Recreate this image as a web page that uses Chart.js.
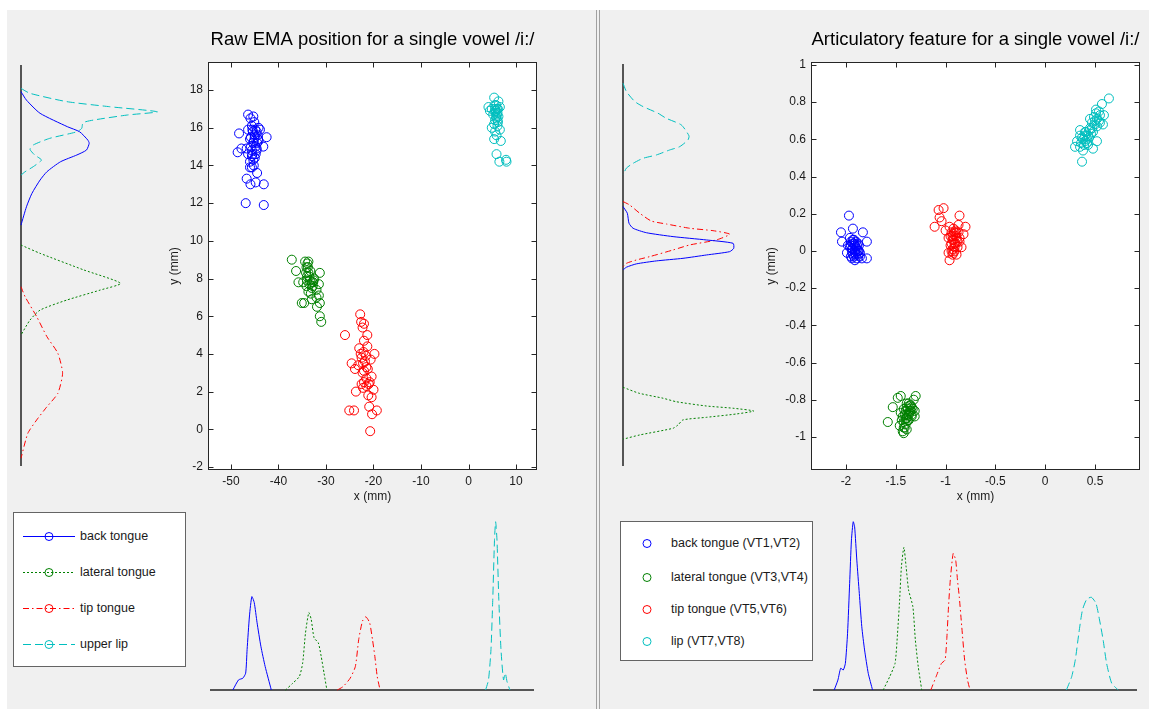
<!DOCTYPE html>
<html>
<head>
<meta charset="utf-8">
<script src="https://cdn.jsdelivr.net/npm/chart.js@4.4.1/dist/chart.umd.min.js"></script>
<style>
  html, body { margin: 0; padding: 0; width: 1149px; height: 709px; overflow: hidden; background: #fff;
    font-family: "Liberation Sans", Arial, sans-serif; }
  #fig { position: absolute; left: 7px; top: 10px; width: 1142px; height: 699px; background: #f0f0f0; }
  .sep { position: absolute; top: 10px; width: 1px; height: 699px; background: #a0a0a0; }
  canvas { position: absolute; }
  .legend { position: absolute; background: #fff; border: 1px solid #646464; box-sizing: border-box; }
  .legend svg { position: absolute; left: 0; top: 0; }
  .legend .lbl { position: absolute; font-size: 12.5px; color: #1a1a1a; line-height: 14px; white-space: nowrap; }
</style>
</head>
<body>
<div id="fig"></div>
<div class="sep" style="left:596px"></div>
<div class="sep" style="left:599px"></div>

<canvas id="rawScatter" width="385" height="486" style="left:160px;top:20px"></canvas>
<canvas id="rawYDens" width="185" height="420" style="left:0px;top:56px"></canvas>
<canvas id="rawXDens" width="345" height="200" style="left:200px;top:505px"></canvas>
<div class="legend" id="rawLegend" style="left:13px;top:512px;width:173px;height:155px"></div>

<canvas id="featScatter" width="393" height="486" style="left:755px;top:20px"></canvas>
<canvas id="featYDens" width="185" height="420" style="left:600px;top:55px"></canvas>
<canvas id="featXDens" width="345" height="200" style="left:805px;top:505px"></canvas>
<div class="legend" id="featLegend" style="left:620px;top:521px;width:193px;height:140px"></div>

<script>
// series names / colours
const rawNames = ["back tongue", "lateral tongue", "tip tongue", "upper lip"];
const featNames = ["back tongue (VT1,VT2)", "lateral tongue (VT3,VT4)", "tip tongue (VT5,VT6)", "lip (VT7,VT8)"];
const colors = ["#0000ff", "#008000", "#ff0000", "#00bfbf"];
const dashes = [[], [2, 2], [6, 3, 1.5, 3], [8, 4]];

// raw EMA positions [x, y] (mm)
const rawBack = [[-46.4,16.7],[-45.3,16.6],[-48.3,15.7],[-48.6,14.7],[-47.8,14.9],[-46.7,14.9],[-45.6,16.1],[-46.4,15.9],
  [-44.6,15.8],[-43.9,15.9],[-42.5,15.5],[-45.0,15.5],[-44.3,15.4],[-46.0,15.4],[-45.3,15.2],[-44.6,14.9],[-43.2,15.0],
  [-46.4,14.6],[-45.6,14.5],[-45.3,14.3],[-46.0,13.9],[-45.6,13.9],[-44.5,13.6],[-46.7,13.3],[-45.9,13.0],[-44.8,13.1],
  [-43.1,13.0],[-46.9,12.0],[-43.1,11.9],[-45.0,15.6],[-44.5,15.2],[-45.8,15.0],[-44.8,14.6],[-45.5,15.9],[-44.2,16.0],
  [-46.0,14.2],[-45.2,14.0],[-45.2,15.3],[-44.8,15.0],[-45.6,14.8],[-44.4,15.6],[-45.0,14.4],[-45.4,15.8],[-44.6,14.8],
  [-45.8,15.5],[-44.2,15.3],[-45.5,14.6],[-45.1,16.3],[-45.9,16.5],[-44.9,15.9]];
const rawLat = [[-37.2,9.0],[-36.3,8.4],[-35.8,7.8],[-34.4,8.9],[-33.7,8.9],[-34.1,8.6],[-33.7,8.3],[-33.4,7.9],[-34.8,7.8],
  [-32.7,7.8],[-31.3,8.3],[-31.5,7.7],[-34.1,7.6],[-33.0,7.5],[-32.0,7.4],[-33.7,7.3],[-35.1,6.7],[-34.6,6.7],[-33.0,6.9],
  [-32.0,7.0],[-31.5,7.1],[-31.3,6.7],[-31.9,6.5],[-31.3,6.0],[-31.0,5.7],[-34.2,8.3],[-32.5,8.0],[-33.5,7.7],[-33.9,8.8],
  [-34.0,8.1],[-33.5,8.1],[-33.0,7.8],[-34.0,7.9],[-32.8,7.6],[-33.3,8.4],[-33.8,8.6],[-32.6,7.9],[-33.2,7.2]];
const rawTip = [[-22.8,6.1],[-22.6,5.7],[-22.0,5.6],[-22.3,5.4],[-21.3,5.0],[-26.0,5.0],[-22.0,4.7],[-21.3,4.4],[-23.0,4.3],
  [-22.7,4.0],[-19.8,4.0],[-22.5,3.8],[-20.6,3.7],[-24.6,3.5],[-22.2,3.5],[-23.2,3.4],[-21.5,3.3],[-23.9,3.2],[-21.2,3.2],
  [-22.0,3.1],[-20.4,2.8],[-22.0,2.5],[-20.8,2.5],[-22.5,2.4],[-21.5,2.3],[-22.2,2.2],[-23.7,2.0],[-20.0,2.1],[-21.1,1.8],
  [-20.4,1.7],[-25.1,1.0],[-24.1,1.0],[-19.3,1.0],[-20.9,1.2],[-20.3,0.8],[-20.7,-0.1],[-21.8,3.6],[-21.5,2.7],[-22.3,3.0],
  [-21.0,2.4],[-22.1,4.1],[-21.6,3.9]];
const rawLip = [[5.4,17.6],[6.3,17.4],[4.2,17.1],[4.9,17.0],[5.6,16.9],[6.1,16.8],[5.2,16.7],[6.6,17.1],[5.8,17.2],[4.5,16.9],
  [6.3,16.6],[5.6,16.4],[6.1,16.1],[4.9,16.0],[6.6,15.9],[5.6,15.8],[5.9,15.6],[5.4,15.4],[6.8,15.3],[5.9,14.6],[6.5,14.2],
  [7.9,14.3],[8.0,14.2],[5.8,16.6],[6.0,17.0],[5.5,17.2],[6.2,16.3],[5.8,16.9],[6.0,16.7],[5.6,17.0],[6.2,17.0],[5.9,16.5],
  [5.7,16.8],[6.1,16.4],[5.4,16.2]];

// articulatory features [x, y]
const featBack = [[-1.97,0.19],[-2.05,0.10],[-2.04,0.05],[-1.93,0.12],[-1.83,0.10],[-1.79,0.05],[-1.96,0.07],[-1.92,0.06],
  [-1.98,0.03],[-1.89,0.03],[-1.94,0.01],[-1.88,0.00],[-1.93,-0.02],[-1.86,-0.01],[-1.95,-0.03],[-1.91,-0.05],[-1.84,-0.04],
  [-1.79,-0.04],[-1.99,-0.01],[-1.90,0.02],[-1.87,0.03],[-1.93,0.04],[-1.95,0.05],[-1.91,0.0],[-1.95,0.03],[-1.93,0.01],
  [-1.91,-0.01],[-1.89,0.01],[-1.92,0.04],[-1.90,0.05],[-1.88,-0.02],[-1.94,-0.01],[-1.92,-0.03],[-1.89,-0.04],[-1.87,0.00],
  [-1.90,-0.02],[-1.93,0.06],[-1.96,0.02],[-1.86,-0.03],[-1.91,0.03],[-1.88,0.04],[-1.94,-0.04]];
const featLat = [[-1.58,-0.92],[-1.53,-0.84],[-1.48,-0.79],[-1.45,-0.78],[-1.30,-0.78],[-1.32,-0.80],[-1.39,-0.82],[-1.34,-0.84],
  [-1.42,-0.85],[-1.36,-0.86],[-1.31,-0.86],[-1.45,-0.87],[-1.39,-0.88],[-1.34,-0.89],[-1.31,-0.89],[-1.44,-0.91],[-1.37,-0.91],
  [-1.46,-0.94],[-1.42,-0.95],[-1.39,-0.96],[-1.43,-0.97],[-1.42,-0.98],[-1.40,-0.90],[-1.36,-0.87],[-1.40,-0.86],[-1.38,-0.85],
  [-1.36,-0.83],[-1.41,-0.88],[-1.37,-0.88],[-1.35,-0.86],[-1.39,-0.84],[-1.42,-0.92],[-1.40,-0.93],[-1.38,-0.91],[-1.41,-0.95],
  [-1.33,-0.85],[-1.37,-0.82],[-1.34,-0.88],[-1.43,-0.89],[-1.39,-0.90],[-1.35,-0.83]];
const featTip = [[-1.07,0.22],[-1.02,0.23],[-1.06,0.18],[-1.04,0.16],[-0.86,0.19],[-1.11,0.13],[-1.00,0.11],[-0.96,0.13],
  [-0.87,0.14],[-0.80,0.13],[-0.94,0.10],[-0.89,0.10],[-0.82,0.09],[-0.97,0.07],[-0.92,0.06],[-0.86,0.07],[-0.95,0.03],
  [-0.90,0.04],[-0.84,0.02],[-0.93,0.01],[-0.97,-0.01],[-0.92,-0.01],[-0.96,-0.05],[-0.91,0.02],[-0.93,0.08],[-0.88,0.05],
  [-0.93,0.06],[-0.91,0.04],[-0.89,0.07],[-0.92,0.09],[-0.90,0.11],[-0.88,0.02],[-0.94,0.04],[-0.91,0.00],[-0.87,0.10],
  [-0.93,-0.02],[-0.90,0.08],[-0.92,0.12],[-0.89,-0.02],[-0.95,0.08],[-0.86,0.05],[-0.91,0.10],[-0.94,0.00]];
const featLip = [[0.64,0.82],[0.57,0.79],[0.51,0.76],[0.54,0.75],[0.59,0.73],[0.45,0.71],[0.50,0.70],[0.55,0.69],[0.52,0.67],
  [0.58,0.68],[0.45,0.66],[0.35,0.65],[0.40,0.64],[0.48,0.64],[0.37,0.61],[0.43,0.62],[0.32,0.59],[0.40,0.59],[0.52,0.59],
  [0.30,0.56],[0.35,0.56],[0.43,0.57],[0.48,0.55],[0.38,0.54],[0.37,0.48],[0.42,0.60],[0.47,0.66],[0.38,0.60],[0.40,0.62],
  [0.42,0.58],[0.36,0.58],[0.44,0.61],[0.39,0.57],[0.41,0.64],[0.46,0.63],[0.35,0.62],[0.50,0.68],[0.52,0.71],[0.49,0.72],
  [0.54,0.70],[0.51,0.74],[0.47,0.69],[0.55,0.73],[0.45,0.65]];

// densities along y, [position, density]
const rawYDensBack = [[17.93,0],[17.48,0.04],[16.78,0.14],[16.07,0.34],[15.8,0.43],[15.36,0.49],[15.19,0.50],[14.83,0.48],
  [14.57,0.41],[14.21,0.29],[13.68,0.19],[13.24,0.14],[12.53,0.08],[11.82,0.04],[10.85,0]];
const rawYDensLat = [[9.79,0],[9.35,0.14],[8.47,0.46],[7.76,0.73],[7.4,0.58],[6.87,0.335],[6.34,0.14],[5.81,0.066],[5.02,0]];
const rawYDensTip = [[7.58,0],[7.05,0.03],[5.99,0.115],[4.93,0.19],[4.05,0.27],[2.99,0.305],[1.92,0.27],[1.21,0.19],
  [0.51,0.115],[-0.2,0.05],[-1.52,0]];
const rawYDensLip = [[18.1,0],[17.84,0.066],[17.4,0.335],[17.13,0.65],[16.86,1.0],[16.69,0.78],[16.42,0.53],[16.28,0.455],
  [15.98,0.445],[15.8,0.41],[15.45,0.21],[15.1,0.09],[14.87,0.066],[14.57,0.10],[14.3,0.15],[13.95,0.09],[13.68,0.03],[13.5,0]];

const featYDensBack = [[0.242,0],[0.206,0.033],[0.152,0.046],[0.125,0.077],[0.101,0.179],[0.08,0.383],[0.062,0.638],
  [0.044,0.842],[0.017,0.847],[-0.001,0.816],[-0.019,0.638],[-0.037,0.459],[-0.051,0.255],[-0.067,0.102],[-0.085,0.026],[-0.1,0]];
const featYDensLat = [[-0.732,0],[-0.764,0.122],[-0.791,0.306],[-0.81,0.408],[-0.833,0.638],[-0.845,0.842],[-0.86,1.0],
  [-0.876,0.867],[-0.894,0.638],[-0.908,0.459],[-0.935,0.421],[-0.953,0.383],[-0.989,0.128],[-1.012,0]];
const featYDensTip = [[0.269,0],[0.251,0.05],[0.206,0.128],[0.164,0.217],[0.148,0.332],[0.125,0.51],[0.112,0.689],
  [0.093,0.816],[0.062,0.714],[0.035,0.51],[0.008,0.383],[-0.028,0.204],[-0.046,0.102],[-0.064,0.026],[-0.082,0]];
const featYDensLip = [[0.907,0],[0.862,0.026],[0.808,0.09],[0.781,0.153],[0.745,0.268],[0.718,0.33],[0.682,0.446],
  [0.623,0.505],[0.601,0.497],[0.565,0.434],[0.547,0.357],[0.52,0.255],[0.502,0.153],[0.475,0.077],[0.449,0.026],[0.412,0]];

// densities along x, [position, density]
const rawXDensBack = [[-49.6,0],[-48.4,0.06],[-47.5,0.07],[-46.9,0.10],[-46.6,0.24],[-46.1,0.44],[-45.6,0.555],[-45.1,0.52],
  [-44.5,0.40],[-43.7,0.26],[-42.8,0.14],[-41.5,0]];
const rawXDensLat = [[-38.5,0],[-37.0,0.04],[-35.6,0.08],[-34.9,0.16],[-34.3,0.34],[-33.6,0.46],[-33.1,0.42],[-32.5,0.31],
  [-31.6,0.28],[-31.0,0.20],[-30.4,0.10],[-29.8,0]];
const rawXDensTip = [[-27.6,0],[-26.4,0.02],[-24.9,0.07],[-23.8,0.14],[-23.1,0.30],[-22.3,0.41],[-21.6,0.435],[-20.8,0.40],
  [-20.2,0.30],[-19.7,0.20],[-19.2,0.08],[-18.6,0]];
const rawXDensLip = [[3.62,0],[4.23,0.06],[4.75,0.24],[5.13,0.54],[5.49,0.89],[5.73,1.0],[6.02,0.89],[6.4,0.54],[6.86,0.24],
  [7.39,0.06],[7.77,0.10],[8.13,0.05],[8.74,0]];

const featXDensBack = [[-2.115,0],[-2.078,0.059],[-2.05,0.129],[-2.024,0.119],[-2.003,0.158],[-1.981,0.337],[-1.96,0.634],
  [-1.942,0.891],[-1.924,1.0],[-1.91,0.97],[-1.888,0.772],[-1.863,0.574],[-1.838,0.376],[-1.81,0.238],[-1.773,0.099],[-1.73,0]];
const featXDensLat = [[-1.623,0],[-1.558,0.079],[-1.504,0.158],[-1.479,0.337],[-1.458,0.535],[-1.44,0.733],[-1.415,0.848],
  [-1.393,0.733],[-1.368,0.594],[-1.325,0.495],[-1.3,0.297],[-1.271,0.139],[-1.236,0]];
const featXDensTip = [[-1.145,0],[-1.092,0.079],[-1.038,0.158],[-1.002,0.178],[-0.985,0.297],[-0.967,0.495],[-0.949,0.654],
  [-0.92,0.812],[-0.895,0.772],[-0.877,0.654],[-0.859,0.554],[-0.834,0.376],[-0.805,0.178],[-0.776,0.059],[-0.751,0]];
const featXDensLip = [[0.217,0],[0.27,0.079],[0.306,0.178],[0.342,0.337],[0.378,0.475],[0.421,0.539],[0.468,0.551],
  [0.514,0.515],[0.55,0.416],[0.586,0.297],[0.621,0.158],[0.672,0.04],[0.737,0]];

// tick values
const rawXTicks = [-50, -40, -30, -20, -10, 0, 10];
const rawYTicks = [-2, 0, 2, 4, 6, 8, 10, 12, 14, 16, 18];
const featXTicks = [-2, -1.5, -1, -0.5, 0, 0.5];
const featYTicks = [-1, -0.8, -0.6, -0.4, -0.2, 0, 0.2, 0.4, 0.6, 0.8, 1];

const FONT = '"Liberation Sans", Arial, sans-serif';
const TXT = "#1a1a1a";

// white axes background + box with inward ticks on all four sides (matlab style)
const boxTicks = {
  id: "boxTicks",
  beforeDraw(chart) {
    const { ctx, chartArea: a } = chart;
    ctx.save();
    ctx.fillStyle = "#fff";
    ctx.fillRect(a.left, a.top, a.width, a.height);
    ctx.restore();
  },
  afterDraw(chart) {
    const { ctx, chartArea: a, scales } = chart;
    const L = Math.round(a.left) + 0.5, R = Math.round(a.right) - 0.5;
    const T = Math.round(a.top) + 0.5, B = Math.round(a.bottom) - 0.5;
    ctx.save();
    ctx.strokeStyle = "#262626";
    ctx.lineWidth = 1;
    ctx.beginPath();
    scales.x.ticks.forEach(t => {
      const p = Math.round(scales.x.getPixelForValue(t.value)) + 0.5;
      ctx.moveTo(p, B); ctx.lineTo(p, B - 5);
      ctx.moveTo(p, T); ctx.lineTo(p, T + 5);
    });
    scales.y.ticks.forEach(t => {
      const p = Math.round(scales.y.getPixelForValue(t.value)) + 0.5;
      ctx.moveTo(L, p); ctx.lineTo(L + 5, p);
      ctx.moveTo(R, p); ctx.lineTo(R - 5, p);
    });
    ctx.stroke();
    ctx.strokeRect(L, T, R - L, B - T);
    ctx.restore();
  }
};

function scatterChart(id, title, sets, xr, yr, xTicks, yTicks, yAxisW, yTitlePad) {
  return new Chart(document.getElementById(id), {
    type: "scatter",
    data: {
      datasets: sets.map((s, i) => ({
        data: s.map(p => ({ x: p[0], y: p[1] })),
        borderColor: colors[i],
        backgroundColor: "rgba(0,0,0,0)",
        pointRadius: 4.5,
        pointHoverRadius: 4.5,
        pointBorderWidth: 1
      }))
    },
    options: {
      responsive: false,
      animation: false,
      events: [],
      layout: { padding: { right: 8 } },
      plugins: {
        legend: { display: false },
        tooltip: { enabled: false },
        title: {
          display: true, text: title, fullSize: false, color: "#000",
          font: { family: FONT, size: 18.5, weight: "normal" },
          padding: { top: 8.9, bottom: 10.9 }
        }
      },
      scales: {
        x: {
          type: "linear", min: xr[0], max: xr[1],
          afterBuildTicks: s => { s.ticks = xTicks.map(v => ({ value: v })); },
          afterFit: s => { s.height = 36; },
          grid: { display: false, drawTicks: false },
          border: { display: false },
          ticks: { autoSkip: false, maxRotation: 0, padding: 4, color: TXT,
            font: { family: FONT, size: 12 }, callback: v => String(v) },
          title: { display: true, text: "x (mm)", color: TXT, font: { family: FONT, size: 12 },
            padding: { top: 0, bottom: 1.8 } }
        },
        y: {
          type: "linear", min: yr[0], max: yr[1],
          afterBuildTicks: s => { s.ticks = yTicks.map(v => ({ value: v })); },
          afterFit: s => { s.width = yAxisW; },
          grid: { display: false, drawTicks: false },
          border: { display: false },
          ticks: { autoSkip: false, padding: 5, color: TXT,
            font: { family: FONT, size: 12 }, callback: v => String(v) },
          title: { display: true, text: "y (mm)", color: TXT, font: { family: FONT, size: 12 },
            padding: { top: yTitlePad, bottom: 0 } }
        }
      }
    },
    plugins: [boxTicks]
  });
}

function densityChart(id, sets, vertical, posRange, valMax, pad) {
  const posAxis = {
    type: "linear", min: posRange[0], max: posRange[1],
    ticks: { display: false },
    grid: { display: false, drawTicks: false },
    border: { display: true, color: "#555", width: 2 }
  };
  const valAxis = { type: "linear", display: false, min: 0, max: valMax };
  if (vertical) posAxis.afterFit = s => { s.width = 0; };
  else posAxis.afterFit = s => { s.height = 0; };
  return new Chart(document.getElementById(id), {
    type: "scatter",
    data: {
      datasets: sets.map((s, i) => ({
        data: s.map(p => vertical ? { x: p[1], y: p[0] } : { x: p[0], y: p[1] }),
        showLine: true,
        pointRadius: 0,
        borderColor: colors[i],
        borderWidth: 1,
        borderDash: dashes[i],
        tension: 0.2,
        clip: false
      }))
    },
    options: {
      responsive: false,
      animation: false,
      events: [],
      layout: { padding: pad },
      plugins: { legend: { display: false }, tooltip: { enabled: false } },
      scales: vertical ? { x: valAxis, y: posAxis } : { x: posAxis, y: valAxis }
    }
  });
}

scatterChart("rawScatter", "Raw EMA position for a single vowel /i:/",
  [rawBack, rawLat, rawTip, rawLip], [-54.84, 14.42], [-2.16, 19.49], rawXTicks, rawYTicks, 48, 7.8);
scatterChart("featScatter", "Articulatory feature for a single vowel /i:/",
  [featBack, featLat, featTip, featLip], [-2.351, 0.952], [-1.178, 1.016], featXTicks, featYTicks, 56, 9.8);

densityChart("rawYDens", [rawYDensBack, rawYDensLat, rawYDensTip, rawYDensLip], true,
  [-1.88, 19.29], 1.1, { left: 21, right: 14, top: 10, bottom: 11 });
densityChart("rawXDens", [rawXDensBack, rawXDensLat, rawXDensTip, rawXDensLip], false,
  [-54.2, 13.6], 1.04, { left: 11, right: 12, top: 10, bottom: 15 });
densityChart("featYDens", [featYDensBack, featYDensLat, featYDensTip, featYDensLip], true,
  [-1.151, 1.005], 1.071, { left: 23, right: 22, top: 10, bottom: 10 });
densityChart("featXDens", [featXDensBack, featXDensLat, featXDensTip, featXDensLip], false,
  [-2.318, 0.916], 1.04, { left: 9, right: 14, top: 10, bottom: 15 });

// legends
function buildLegend(id, names, rows, markX, textX, withLine) {
  const box = document.getElementById(id);
  const w = box.clientWidth, h = box.clientHeight;
  let svg = `<svg width="${w}" height="${h}">`;
  names.forEach((n, i) => {
    const y = rows[i] + 0.5;
    if (withLine) {
      const da = dashes[i].length ? ` stroke-dasharray="${dashes[i].join(",")}"` : "";
      svg += `<line x1="9" y1="${y}" x2="61" y2="${y}" stroke="${colors[i]}" stroke-width="1"${da}/>`;
    }
    svg += `<circle cx="${markX}" cy="${y}" r="4" fill="none" stroke="${colors[i]}" stroke-width="1"/>`;
  });
  svg += "</svg>";
  box.innerHTML = svg;
  names.forEach((n, i) => {
    const d = document.createElement("div");
    d.className = "lbl";
    d.textContent = n;
    d.style.left = textX + "px";
    d.style.top = (rows[i] - 7) + "px";
    box.appendChild(d);
  });
}
buildLegend("rawLegend", rawNames, [23, 59, 95, 131], 35, 66, true);
buildLegend("featLegend", featNames, [21, 55, 87, 119], 26, 50, false);
</script>
</body>
</html>
